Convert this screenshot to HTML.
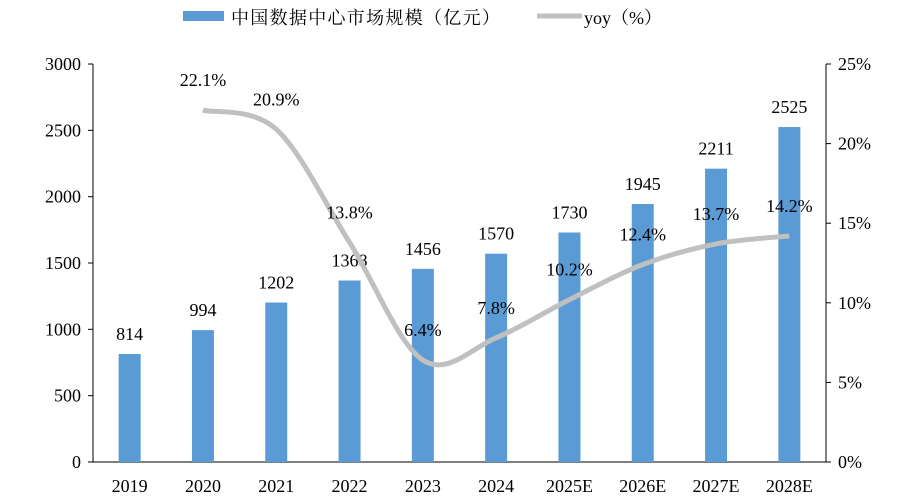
<!DOCTYPE html>
<html><head><meta charset="utf-8"><style>
body{margin:0;background:#fff;}
svg{display:block;font-family:"Liberation Serif","Noto Serif CJK SC",serif;}
</style></head><body>
<svg id="c" width="908" height="500">
<g>
<rect x="183" y="11" width="41" height="10" fill="#5b9bd5"/>
<text x="231" y="24" font-size="18" letter-spacing="1.3">中国数据中心市场规模（亿元）</text>
<line x1="537" y1="16" x2="582" y2="16" stroke="#c0c0c0" stroke-width="5"/>
<text x="584" y="24" font-size="18">yoy（%）</text>
</g>
</svg>
<script>
const categories=["2019","2020","2021","2022","2023","2024","2025E","2026E","2027E","2028E"];
const marketSize=[814,994,1202,1368,1456,1570,1730,1945,2211,2525];
const yoy=[null,22.1,20.9,13.8,6.4,7.8,10.2,12.4,13.7,14.2];
const leftTicks=[0,500,1000,1500,2000,2500,3000];
const rightTicks=[0,5,10,15,20,25];
const svg=document.getElementById('c');
const NS='http://www.w3.org/2000/svg';
const X0=93,X1=826,Y0=462,Y1=64;
const yL=v=>Y0-(v/3000)*(Y0-Y1);
const yR=v=>Y0-(v/25)*(Y0-Y1);
const band=(X1-X0)/categories.length;
const xC=i=>X0+band*(i+0.5);
function mk(t,a){const e=document.createElementNS(NS,t);for(const k in a)e.setAttribute(k,a[k]);svg.appendChild(e);return e;}
let e;
e=mk('line',{x1:X0,y1:Y1,x2:X0,y2:Y0,stroke:'#000'});


e=mk('line',{x1:X1,y1:Y1,x2:X1,y2:Y0,stroke:'#000'});


e=mk('line',{x1:X0,y1:Y0,x2:X1,y2:Y0,stroke:'#000'});


leftTicks.forEach(v=>{
 e=mk('line',{x1:X0-5,y1:yL(v),x2:X0,y2:yL(v),stroke:'#000'});
 
 
 e=mk('text',{x:X0-12,y:yL(v)+6,'font-size':18,'text-anchor':'end'});e.textContent=v;
 
 
});
rightTicks.forEach(v=>{
 e=mk('line',{x1:X1,y1:yR(v),x2:X1+5,y2:yR(v),stroke:'#000'});
 
 
 e=mk('text',{x:X1+12,y:yR(v)+6,'font-size':18});e.textContent=v+'%';
 
 
});
categories.forEach((c,i)=>{
 e=mk('text',{x:xC(i),y:Y0+30,'font-size':18,'text-anchor':'middle'});e.textContent=c;
 
 
 const v=marketSize[i];
 e=mk('rect',{x:xC(i)-11,y:yL(v),width:22,height:Y0-yL(v),fill:'#5b9bd5'});
 
 
 e=mk('text',{x:xC(i),y:yL(v)-14,'font-size':18,'text-anchor':'middle'});e.textContent=v;
 
 
});
const pts=[];yoy.forEach((v,i)=>{if(v!=null)pts.push([xC(i),yR(v)]);});
let d='M'+pts[0][0]+','+pts[0][1];
for(let i=0;i<pts.length-1;i++){
 const p0=pts[Math.max(0,i-1)],p1=pts[i],p2=pts[i+1],p3=pts[Math.min(pts.length-1,i+2)];
 const t=0.5/3;
 d+=' C'+(p1[0]+(p2[0]-p0[0])*t)+','+(p1[1]+(p2[1]-p0[1])*t)+' '+(p2[0]-(p3[0]-p1[0])*t)+','+(p2[1]-(p3[1]-p1[1])*t)+' '+p2[0]+','+p2[1];
}
e=mk('path',{d:d,fill:'none',stroke:'#c0c0c0','stroke-width':5});


yoy.forEach((v,i)=>{if(v==null)return;
 e=mk('text',{x:xC(i),y:yR(v)-24,'font-size':18,'text-anchor':'middle'});e.textContent=v.toFixed(1)+'%';
 
 
});
</script>
</body></html>
